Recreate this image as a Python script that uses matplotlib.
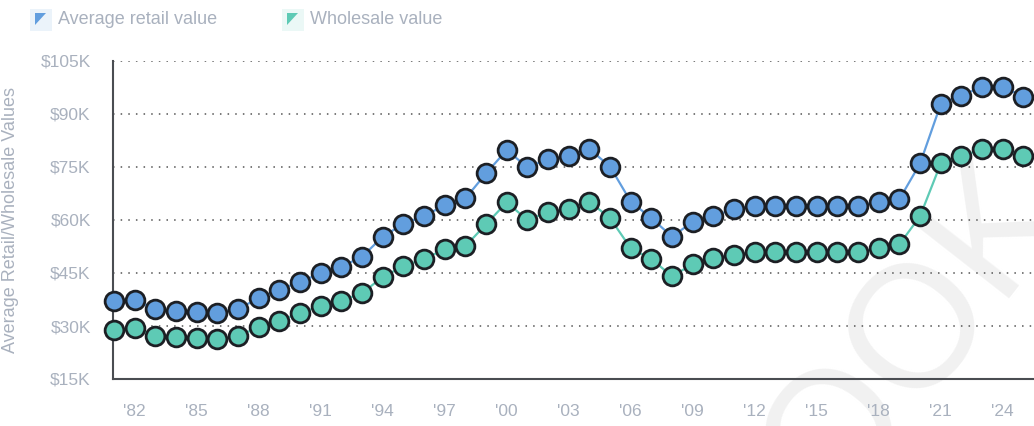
import matplotlib
matplotlib.use("Agg")
import matplotlib.pyplot as plt
from matplotlib.patches import Rectangle, Polygon
from matplotlib.ticker import FuncFormatter

years = list(range(1981, 2026))
retail = [37.1, 37.5, 34.7, 34.3, 34.0, 33.8, 34.9, 37.8, 40.2, 42.5,
          44.9, 46.8, 49.6, 55.3, 58.9, 61.1, 64.2, 66.1, 73.2, 79.8,
          74.9, 77.2, 78.1, 80.1, 75.1, 65.2, 60.5, 55.3, 59.5, 61.1,
          63.1, 64.0, 64.0, 64.0, 64.0, 64.0, 64.0, 65.2, 65.9, 76.0,
          92.8, 95.2, 97.7, 97.7, 94.9]
wholesale = [29.0, 29.3, 27.2, 26.8, 26.7, 26.2, 27.2, 29.6, 31.5, 33.6,
             35.7, 37.1, 39.3, 43.9, 46.9, 49.0, 51.7, 52.6, 58.8, 65.0,
             60.0, 62.2, 63.0, 65.2, 60.5, 52.0, 48.9, 44.1, 47.5, 49.2,
             50.1, 51.0, 51.0, 51.0, 51.0, 51.0, 51.0, 52.0, 53.1, 61.1,
             76.0, 78.1, 80.0, 80.0, 78.1]
series_names = ["Average retail value", "Wholesale value"]
colors = ["#629ede", "#5ecab5"]
xticks = list(range(1982, 2026, 3))
yticks = [15, 30, 45, 60, 75, 90, 105]

gray = "#a9b1be"
plt.rcParams["font.family"] = ["Liberation Sans", "DejaVu Sans"]

W, H = 1034, 426
fig = plt.figure(figsize=(10.34, 4.26), dpi=100)

# faint watermark behind the plot
fig.text(915 / W, 1 - 335 / H, "OOK", fontsize=125, color="#f1f1f1", rotation=52,
         rotation_mode="anchor", ha="center", va="center", zorder=-5)

ax = fig.add_axes([113 / W, 1 - 379 / H, 1 - 113 / W, (379 - 61) / H])
ax.patch.set_alpha(0)

for vals, c in zip([retail, wholesale], colors):
    ax.plot(years, vals, color=c, lw=1.6, marker="o", ms=13.5,
            mfc=c, mec="#1c1f24", mew=2.0, zorder=3, clip_on=False)

ax.set_xlim(1980.95, 2025.51)
ax.set_ylim(15, 105)
ax.set_xticks(xticks)
ax.set_xticklabels(["'%02d" % (y % 100) for y in xticks])
ax.set_yticks(yticks)
ax.yaxis.set_major_formatter(FuncFormatter(lambda v, p: "$%dK" % v))
ax.tick_params(length=0, colors=gray, labelsize=12.5)
ax.tick_params(axis="x", pad=18)
ax.tick_params(axis="y", pad=16)

ax.grid(axis="y", linestyle=(0, (1, 4)), color="#555555", lw=1.1)
ax.set_axisbelow(True)
for s in ["top", "right"]:
    ax.spines[s].set_visible(False)
for s in ["left", "bottom"]:
    ax.spines[s].set_color("#4a4d52")
    ax.spines[s].set_linewidth(1.5)

ax.set_ylabel("Average Retail/Wholesale Values", color=gray, fontsize=13)
ax.yaxis.set_label_coords(-0.102, 0.5)

# legend with small triangle swatches
for name, c, x0 in zip(series_names, colors, [30, 282]):
    fig.add_artist(Rectangle((x0 / W, 1 - 31 / H), 22 / W, 22 / H,
                             transform=fig.transFigure, color=c, alpha=0.12, lw=0))
    tri = [((x0 + 5) / W, 1 - 13 / H), ((x0 + 16) / W, 1 - 13 / H), ((x0 + 5) / W, 1 - 25 / H)]
    fig.add_artist(Polygon(tri, closed=True, transform=fig.transFigure, color=c, lw=0))
    fig.text((x0 + 28) / W, 1 - 20 / H, name, color=gray, fontsize=13, va="center")

fig.savefig("out.png", dpi=100)
